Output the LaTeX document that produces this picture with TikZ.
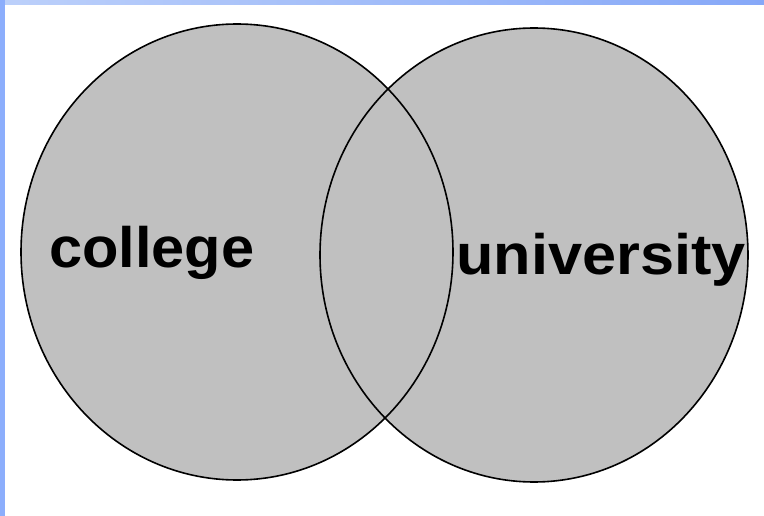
\documentclass[tikz,border=0pt]{standalone}
\usepackage{fontspec}
\setmainfont{Liberation Sans}
\begin{document}
\begin{tikzpicture}[x=1pt,y=-1pt,
  setfill/.style={fill=circgray},
  setline/.style={draw=black,line width=1.6pt},
  lbl/.style={anchor=base west,inner sep=0pt,font=\fontsize{57}{60}\selectfont\bfseries}]
\definecolor{circgray}{HTML}{C0C0C0}
\definecolor{blueL}{HTML}{BCD0FA}
\definecolor{blueR}{HTML}{86A8F8}
\definecolor{blueS}{HTML}{8CAEFC}
\useasboundingbox (0,0) rectangle (764,516);
\fill[white] (0,0) rectangle (764,516);
\shade[left color=blueL,right color=blueR] (0,0) rectangle (764,5);
\fill[blueS] (0,0) rectangle (5,516);
% sets
\coordinate (cL) at (237,252);
\coordinate (cR) at (534,255);
\fill[setfill] (cL) ellipse [x radius=216, y radius=228];
\fill[setfill] (cR) ellipse [x radius=214, y radius=227];
\draw[setline] (cL) ellipse [x radius=216, y radius=228];
\draw[setline] (cR) ellipse [x radius=214, y radius=227];
\node[lbl] (college) at (49,267) {\scalebox{1.045}[1]{college}};
\node[lbl] (university) at (456,275) {\scalebox{1.075}[1]{university}};
\end{tikzpicture}
\end{document}
